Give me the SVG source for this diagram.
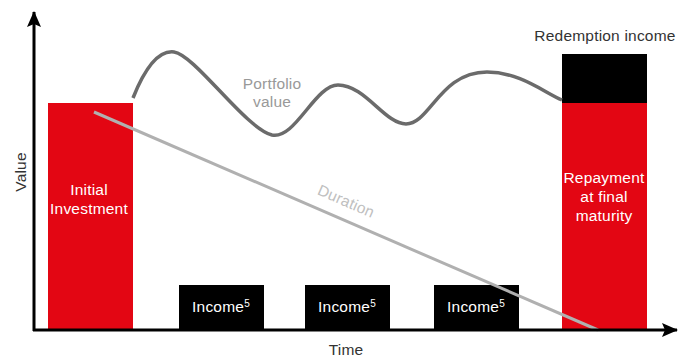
<svg xmlns="http://www.w3.org/2000/svg" width="686" height="358" viewBox="0 0 686 358">
<style>
text{font-family:"Liberation Sans",Arial,sans-serif;font-size:15.5px;letter-spacing:0.2px}
.red{fill:#e30613}
.blk{fill:#000}
.wt{fill:#fff;text-anchor:middle}
.lbl{fill:#333;text-anchor:middle}
.sup{font-size:10px}
</style>
<defs>
<marker id="ah" markerWidth="16" markerHeight="14" refX="15" refY="7" orient="auto" markerUnits="userSpaceOnUse" viewBox="0 0 16 14">
<path d="M0,0 L16,7 L0,14 L3,7 Z" fill="#000"/>
</marker>
</defs>
<g id="initial">
<rect class="red" x="48" y="103" width="85" height="227"/>
<text class="wt" x="89" y="195">Initial</text>
<text class="wt" x="89" y="214">Investment</text>
</g>
<g id="income1">
<rect class="blk" x="179" y="285" width="85" height="45"/>
<text class="wt" x="221" y="312">Income<tspan class="sup" dy="-5">5</tspan></text>
</g>
<g id="income2">
<rect class="blk" x="305" y="285" width="85" height="45"/>
<text class="wt" x="347" y="312">Income<tspan class="sup" dy="-5">5</tspan></text>
</g>
<g id="income3">
<rect class="blk" x="434" y="285" width="85" height="45"/>
<text class="wt" x="476" y="312">Income<tspan class="sup" dy="-5">5</tspan></text>
</g>
<g id="repayment">
<rect class="red" x="562" y="103" width="85" height="227"/>
<text class="wt" x="604" y="183">Repayment</text>
<text class="wt" x="604" y="202">at final</text>
<text class="wt" x="604" y="221">maturity</text>
</g>
<g id="redemption">
<rect class="blk" x="562" y="54" width="85" height="49"/>
<text class="lbl" x="605" y="41">Redemption income</text>
</g>
<g id="connectors">
<path d="M133,98 C145,68 158,50 174,52 C195,55 245,128 272,135 C295,140 315,85 338,85 C365,85 385,124 406,124 C430,124 440,72 487,72 C520,72 545,93 562,100" fill="none" stroke="#6b6b6b" stroke-width="3.5"/>
<line x1="94" y1="112" x2="598" y2="330" stroke="#b0b0b0" stroke-width="3"/>
<line x1="34" y1="331" x2="34" y2="12" stroke="#000" stroke-width="3" marker-end="url(#ah)"/>
<line x1="33" y1="330" x2="677" y2="330" stroke="#000" stroke-width="3" marker-end="url(#ah)"/>
</g>
<g id="labels">
<text fill="#999" text-anchor="middle" x="272" y="89">Portfolio</text>
<text fill="#999" text-anchor="middle" x="272" y="107">value</text>
<text fill="#c0c0c0" text-anchor="middle" transform="translate(344,206) rotate(23.4)">Duration</text>
<text class="lbl" transform="translate(26,172) rotate(-90)">Value</text>
<text class="lbl" x="346" y="355">Time</text>
</g>
</svg>
